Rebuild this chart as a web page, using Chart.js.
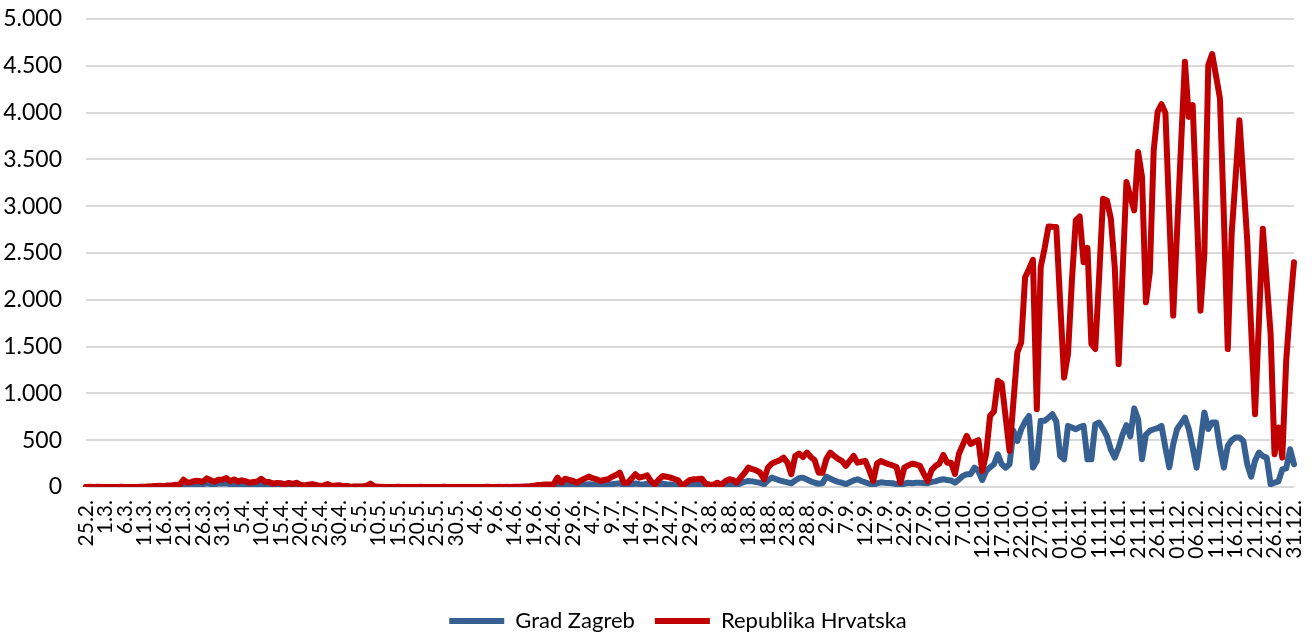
<!DOCTYPE html>
<html>
<head>
<meta charset="utf-8">
<script src="https://cdn.jsdelivr.net/npm/chart.js@4.4.1/dist/chart.umd.min.js"></script>
<style>
  body { margin: 0; background: #fff; }
</style>
</head>
<body>
<canvas id="chart" width="1312" height="634"></canvas>
<script>
// daily period 25.2. - 31.12.
const months = [
  { month: 2, first: 25, last: 29 },
  { month: 3, first: 1, last: 31 },
  { month: 4, first: 1, last: 30 },
  { month: 5, first: 1, last: 31 },
  { month: 6, first: 1, last: 30 },
  { month: 7, first: 1, last: 31 },
  { month: 8, first: 1, last: 31 },
  { month: 9, first: 1, last: 30 },
  { month: 10, first: 1, last: 31 },
  { month: 11, first: 1, last: 30 },
  { month: 12, first: 1, last: 31 }
];

const zagreb = [
  // velj
  1, 0, 1, 0, 0,
  // ozu
  0, 0, 0, 0, 1, 0, 0, 1, 0, 1, 1, 2, 3, 5, 8, 4, 8, 9, 13, 12, 30, 25, 26, 34, 32, 28, 42, 30, 28, 38, 36,
  // tra
  40, 30, 35, 25, 30, 28, 20, 25, 28, 35, 22, 24, 18, 20, 18, 12, 18, 15, 22, 10, 6, 10, 12, 8, 4, 6, 10, 4, 5, 6,
  // svi
  2, 3, 1, 2, 2, 2, 5, 10, 3, 1, 1, 0, 0, 1, 0, 0, 0, 0, 0, 0, 1, 0, 0, 0, 0, 0, 1, 0, 0, 0, 0,
  // lip
  0, 0, 0, 0, 0, 0, 1, 0, 0, 1, 0, 1, 0, 1, 1, 2, 2, 3, 5, 8, 8, 10, 9, 12, 30, 15, 28, 20, 18, 15,
  // srp
  22, 25, 30, 28, 20, 15, 18, 22, 30, 35, 40, 15, 12, 25, 38, 30, 28, 35, 18, 10, 22, 35, 30, 28, 22, 18, 5, 12, 22, 28, 30,
  // kol
  32, 15, 10, 12, 20, 15, 28, 35, 30, 20, 40, 55, 65, 60, 52, 45, 29, 70, 100, 85, 71, 60, 50, 40, 70, 95, 100, 80, 60, 45, 35,
  // ruj
  40, 111, 90, 70, 55, 45, 30, 50, 70, 82, 64, 50, 35, 21, 40, 50, 45, 43, 40, 30, 21, 35, 45, 40, 45, 45, 42, 40, 55, 60,
  // lis
  75, 82, 75, 70, 46, 80, 118, 136, 136, 207, 171, 75, 171, 210, 243, 350, 243, 207, 243, 600, 492, 617, 700, 760, 207, 278, 707, 707, 740, 778, 700,
  // stu
  332, 296, 653, 635, 617, 640, 653, 296, 296, 671, 689, 620, 540, 400, 314, 420, 560, 660, 540, 840, 720, 296, 560, 600, 617, 630, 653, 420, 210, 457,
  // pro
  620, 680, 742, 620, 420, 207, 480, 796, 620, 689, 689, 420, 207, 439, 500, 528, 528, 492, 243, 110, 280, 368, 330, 314, 30, 46, 60, 189, 200, 403, 243
];

const hrvatska = [
  // velj
  1, 2, 0, 2, 0,
  // ozu
  1, 0, 0, 1, 2, 0, 1, 1, 1, 2, 3, 5, 7, 11, 13, 8, 16, 16, 24, 23, 78, 48, 52, 67, 64, 55, 92, 73, 56, 77, 78,
  // tra
  96, 61, 81, 57, 72, 59, 46, 54, 60, 88, 56, 53, 36, 44, 41, 29, 44, 33, 45, 25, 16, 25, 31, 21, 11, 17, 31, 12, 15, 19,
  // svi
  7, 10, 3, 5, 6, 8, 12, 36, 8, 4, 3, 0, 1, 1, 2, 0, 0, 0, 1, 0, 2, 0, 1, 1, 1, 0, 2, 0, 0, 1, 1,
  // lip
  0, 1, 0, 1, 1, 0, 2, 0, 0, 2, 1, 2, 1, 3, 2, 4, 6, 8, 15, 22, 24, 27, 28, 30, 100, 46, 89, 75, 64, 46,
  // srp
  71, 90, 111, 95, 82, 64, 75, 82, 110, 128, 153, 46, 46, 90, 136, 100, 110, 125, 60, 29, 80, 118, 110, 100, 85, 71, 11, 45, 75, 82, 85,
  // kol
  89, 36, 28, 21, 46, 21, 60, 82, 75, 46, 100, 150, 207, 190, 178, 153, 82, 207, 250, 270, 285, 314, 260, 136, 330, 357, 321, 368, 320, 285, 153,
  // ruj
  153, 300, 368, 332, 300, 278, 225, 280, 332, 260, 270, 278, 180, 64, 250, 278, 260, 243, 230, 214, 46, 207, 230, 250, 240, 225, 140, 64, 180, 225,
  // lis
  250, 343, 260, 260, 139, 353, 450, 546, 460, 480, 500, 171, 353, 760, 806, 1135, 1106, 745, 385, 910, 1438, 1545, 2241, 2330, 2427, 832, 2348, 2550, 2784, 2780, 2777,
  // stu
  1970, 1170, 1420, 2200, 2848, 2890, 2402, 2555, 1528, 1474, 2250, 3080, 3062, 2866, 2350, 1313, 2280, 3258, 3100, 2955, 3580, 3312, 1973, 2295, 3597, 4007, 4090, 3997, 2900, 1831,
  // pro
  2735, 3640, 4543, 3954, 4079, 3000, 1884, 2491, 4507, 4625, 4390, 4150, 2900, 1474, 2705, 3300, 3919, 3280, 2634, 1700, 778, 1770, 2759, 2200, 1635, 350, 635, 314, 1349, 1920, 2402
];

const labels = [];
months.forEach(m => {
  for (let d = m.first; d <= m.last; d++) {
    const day = m.month >= 11 && d < 10 ? '0' + d : String(d);
    labels.push(day + '.' + m.month + '.');
  }
});

const FONT = 'Lato';

function thousands(v) {
  return String(v).replace(/\B(?=(\d{3})+(?!\d))/g, '.');
}

// legend sits a bit right of centre in the original
const shiftLegend = {
  id: 'shiftLegend',
  afterLayout(chart) {
    chart.legend.left += 31;
    chart.legend.right += 31;
  }
};

new Chart(document.getElementById('chart'), {
  type: 'line',
  data: {
    labels: labels,
    datasets: [
      {
        label: 'Grad Zagreb',
        data: zagreb,
        borderColor: '#376092',
        backgroundColor: '#376092',
        borderWidth: 6,
        pointRadius: 0,
        borderJoinStyle: 'round',
        borderCapStyle: 'round',
        order: 1
      },
      {
        label: 'Republika Hrvatska',
        data: hrvatska,
        borderColor: '#c00000',
        backgroundColor: '#c00000',
        borderWidth: 6,
        pointRadius: 0,
        borderJoinStyle: 'round',
        borderCapStyle: 'round',
        order: 0
      }
    ]
  },
  plugins: [shiftLegend],
  options: {
    responsive: false,
    animation: false,
    layout: { padding: { left: 0, right: 18, top: 19, bottom: -8 } },
    plugins: {
      tooltip: { enabled: false },
      legend: {
        position: 'bottom',
        labels: {
          sort: (a, b) => a.datasetIndex - b.datasetIndex,
          usePointStyle: true,
          pointStyle: 'line',
          pointStyleWidth: 55,
          color: '#000',
          padding: 20,
          font: { family: FONT, size: 22 }
        }
      }
    },
    scales: {
      x: {
        grid: { display: false },
        border: { display: false },
        afterFit: s => { s.height = 103; s.paddingLeft = 0; s.paddingRight = 0; },
        ticks: {
          autoSkip: false,
          minRotation: 90,
          maxRotation: 90,
          padding: 5,
          color: '#000',
          font: { family: FONT, size: 21 },
          callback: function (value, index) {
            return index % 5 === 0 ? this.getLabelForValue(value) : '';
          }
        }
      },
      y: {
        min: 0,
        max: 5000,
        border: { display: false },
        grid: { color: '#d9d9d9', lineWidth: 2, drawTicks: false },
        afterFit: s => { s.width = 86; s.paddingTop = 0; s.paddingBottom = 0; },
        ticks: {
          stepSize: 500,
          padding: 24,
          color: '#000',
          font: { family: FONT, size: 23 },
          callback: v => thousands(v)
        }
      }
    }
  }
});
</script>
</body>
</html>
